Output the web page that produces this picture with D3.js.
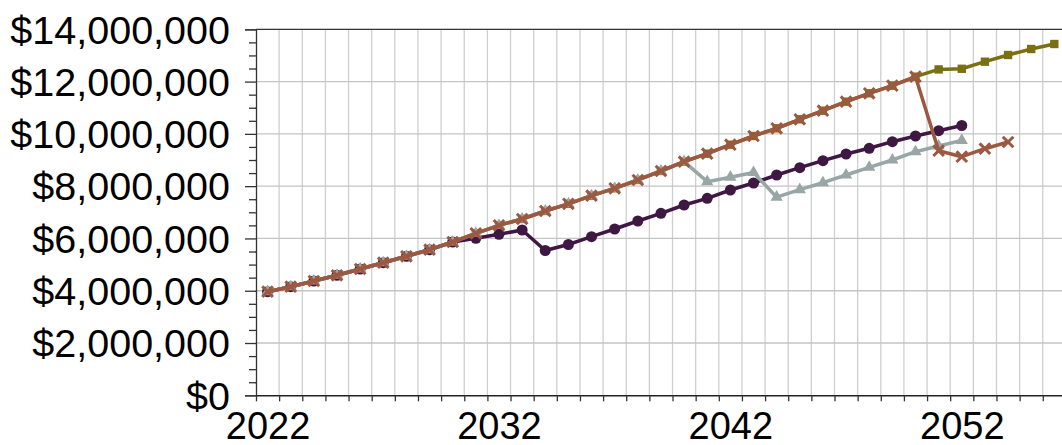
<!DOCTYPE html>
<html>
<head>
<meta charset="utf-8">
<script src="https://cdn.jsdelivr.net/npm/d3@7"></script>
<style>
  body { margin: 0; background: #fff; }
  svg { display: block; font-family: "Liberation Sans", Arial, sans-serif; }
</style>
</head>
<body>
<script>
// years on the category axis
const years = d3.range(2022, 2057)

// values in millions of dollars, null where a series has no point
const shared = [3.963, 4.154, 4.372, 4.590, 4.831, 5.072, 5.317, 5.569, 5.864]

const seriesOlive = shared.concat([6.197, 6.503, 6.744, 7.050, 7.325, 7.635, 7.918, 8.236, 8.580, 8.936,
    9.242, 9.586, 9.919, 10.213, 10.557, 10.886, 11.231, 11.552, 11.843, 12.187,
    12.465, 12.49, 12.761, 13.017, 13.246, 13.438])

const seriesPurple = shared.concat([6.005, 6.158, 6.323, 5.539, 5.768, 6.067, 6.361, 6.667, 6.962, 7.279,
    7.535, 7.853, 8.121, 8.427, 8.706, 8.974, 9.230, 9.448, 9.701, 9.919,
    10.121, 10.320, null, null, null, null])

const seriesGray = shared.concat([6.197, 6.503, 6.744, 7.050, 7.325, 7.635, 7.918, 8.236, 8.580, 8.936,
    8.171, 8.343, 8.522, 7.578, 7.868, 8.132, 8.427, 8.721, 9.001, 9.318,
    9.536, 9.750, null, null, null, null])

const seriesRed = shared.concat([6.197, 6.503, 6.744, 7.050, 7.325, 7.635, 7.918, 8.236, 8.580, 8.936,
    9.242, 9.586, 9.919, 10.213, 10.557, 10.886, 11.231, 11.552, 11.843, 12.187,
    9.356, 9.127, 9.433, 9.689, null, null])

const yTicks = [0, 2, 4, 6, 8, 10, 12, 14]
const xLabels = [2022, 2032, 2042, 2052]

const W = 1062, H = 445
const pLeft = 256, pTop = 29.3, pBottom = 395.3
const step = 23.14
const pRight = pLeft + years.length * step

const svg = d3.select("body")
    .append("svg")
    .attr("width", W)
    .attr("height", H)

const x = d3.scaleLinear()
    .domain([2021.5, 2021.5 + years.length])
    .range([pLeft, pRight])

const y = d3.scaleLinear()
    .domain([0, 14])
    .range([pBottom, pTop])

const boundaries = d3.range(years.length + 1).map(i => 2021.5 + i)

// grid
svg.append("g")
    .selectAll("line")
    .data(boundaries.slice(1))
    .enter()
    .append("line")
    .attr("x1", d => x(d)).attr("x2", d => x(d))
    .attr("y1", pTop).attr("y2", pBottom)
    .attr("stroke", "#cfcfcf")
    .attr("stroke-width", 1.3)

svg.append("g")
    .selectAll("line")
    .data(yTicks.slice(1, -1))
    .enter()
    .append("line")
    .attr("x1", pLeft).attr("x2", pRight)
    .attr("y1", d => y(d)).attr("y2", d => y(d))
    .attr("stroke", "#c4c4c4")
    .attr("stroke-width", 1.3)

// top frame
svg.append("line")
    .attr("x1", pLeft).attr("x2", pRight)
    .attr("y1", pTop).attr("y2", pTop)
    .attr("stroke", "#333")
    .attr("stroke-width", 1.3)

// y axis, major + minor ticks
const yAxis = d3.axisLeft(y)
    .tickValues(yTicks)
    .tickSize(11)
    .tickPadding(15)
    .tickFormat(d => d3.format("$,")(d * 1000000))

const yg = svg.append("g")
    .attr("transform", "translate(" + pLeft + ",0)")
    .call(yAxis)
yg.select(".domain").attr("stroke", "#333").attr("stroke-width", 1.3)
yg.selectAll(".tick line").attr("stroke", "#333").attr("stroke-width", 1.3)
yg.selectAll("text")
    .attr("font-size", 39.5)
    .attr("fill", "#000")
    .attr("dy", "0.35em")
    .attr("font-family", "Liberation Sans, Arial, sans-serif")

const minor = d3.range(0, 14.01, 0.5).filter(d => d % 2 !== 0)
const ym = svg.append("g")
    .attr("transform", "translate(" + pLeft + ",0)")
    .call(d3.axisLeft(y).tickValues(minor).tickSize(7).tickFormat(""))
ym.select(".domain").remove()
ym.selectAll(".tick line").attr("stroke", "#333").attr("stroke-width", 1.3)

// x axis: ticks at boundaries, labels at centres
const xg = svg.append("g")
    .attr("transform", "translate(0," + pBottom + ")")
    .call(d3.axisBottom(x).tickValues(boundaries).tickSize(6).tickSizeOuter(0).tickFormat(""))
xg.select(".domain").attr("stroke", "#222").attr("stroke-width", 1.6)
xg.selectAll(".tick line").attr("stroke", "#333").attr("stroke-width", 1.3)

const xl = svg.append("g")
    .attr("transform", "translate(0," + pBottom + ")")
    .call(d3.axisBottom(x).tickValues(xLabels).tickSize(0).tickPadding(17).tickFormat(d3.format("d")))
xl.select(".domain").remove()
xl.selectAll("text")
    .attr("font-size", 38)
    .attr("fill", "#000")
    .attr("font-family", "Liberation Sans, Arial, sans-serif")

// series
const line = d3.line()
    .defined(d => d.v !== null)
    .x(d => x(d.year))
    .y(d => y(d.v))

function pts(arr) {
    return years.map((yr, i) => ({ year: yr, v: arr[i] }))
}

const series = [
    { data: seriesOlive, color: "#7a6f12", shape: d3.symbolSquare, size: 70 },
    { data: seriesPurple, color: "#3e1742", shape: d3.symbolCircle, size: 95 },
    { data: seriesGray, color: "#98a7a5", shape: d3.symbolTriangle, size: 65 },
    { data: seriesRed, color: "#9c5841", shape: d3.symbolX, size: 75 }
]

series.forEach(s => {
    const p = pts(s.data)
    svg.append("path")
        .datum(p)
        .attr("fill", "none")
        .attr("stroke", s.color)
        .attr("stroke-width", 3.5)
        .attr("stroke-linejoin", "round")
        .attr("d", line)

    const sym = svg.append("g")
        .selectAll("path")
        .data(p.filter(d => d.v !== null))
        .enter()
        .append("path")
        .attr("transform", d => "translate(" + x(d.year) + "," + y(d.v) + ")")
        .attr("d", d3.symbol().type(s.shape).size(s.size))
    if (s.shape === d3.symbolX) {
        sym.attr("fill", "none").attr("stroke", s.color).attr("stroke-width", 3)
    } else {
        sym.attr("fill", s.color)
    }
})
</script>
</body>
</html>
